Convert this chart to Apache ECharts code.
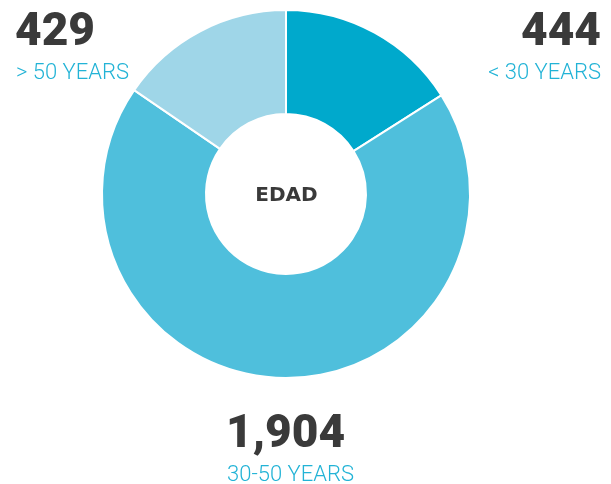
<!DOCTYPE html>
<html>
<head>
<meta charset="utf-8">
<style>
  html, body { margin: 0; padding: 0; background: #fff; }
  #chart { width: 611px; height: 484px; }
</style>
<script src="https://cdn.jsdelivr.net/npm/echarts@6/dist/echarts.min.js"></script>
</head>
<body>
<div id="chart"></div>
<script>
// Age groups of the workforce
const categories = ['< 30 YEARS', '30-50 YEARS', '> 50 YEARS'];
const values = [444, 1904, 429];
const colors = ['#00a9cc', '#4fbfdc', '#9fd6e8'];
const centerTitle = 'EDAD';

const chart = echarts.init(document.getElementById('chart'));
const fmt = v => v.toLocaleString('en-US');

// Corner / bottom callouts: anchor x, top of the number, alignment
const callouts = [
  { x: 601, y: 10, align: 'right' },
  { x: 226, y: 412, align: 'left' },
  { x: 15, y: 10, align: 'left' }
];

const graphics = [];
categories.forEach((name, i) => {
  const c = callouts[i];
  const right = c.align === 'right';
  graphics.push({
    type: 'text',
    left: right ? null : c.x,
    right: right ? 611 - c.x : null,
    top: c.y,
    style: {
      text: fmt(values[i]),
      font: '900 46px Roboto',
      letterSpacing: 1,
      fill: '#3a3a3a'
    }
  });
  graphics.push({
    type: 'text',
    left: right ? null : c.x + 1,
    right: right ? 611 - c.x : null,
    top: c.y + 52,
    style: {
      text: name,
      font: '300 22px Roboto',
      letterSpacing: 0.6,
      fill: '#22b3d6'
    }
  });
});

// Label in the hole of the donut
graphics.push({
  type: 'text',
  x: 286.5,
  y: 196,
  style: {
    text: centerTitle,
    font: 'bold 20px "DejaVu Sans"',
    fill: '#3a3a3a',
    align: 'center',
    verticalAlign: 'middle'
  }
});

chart.setOption({
  animation: false,
  graphic: graphics,
  series: [{
    type: 'pie',
    center: [286, 194],
    radius: [80, 184],
    startAngle: 90,
    clockwise: true,
    label: { show: false },
    labelLine: { show: false },
    itemStyle: { borderColor: '#fff', borderWidth: 2 },
    emphasis: { disabled: true },
    data: categories.map((name, i) => ({
      name, value: values[i], itemStyle: { color: colors[i] }
    }))
  }]
});
</script>
</body>
</html>
